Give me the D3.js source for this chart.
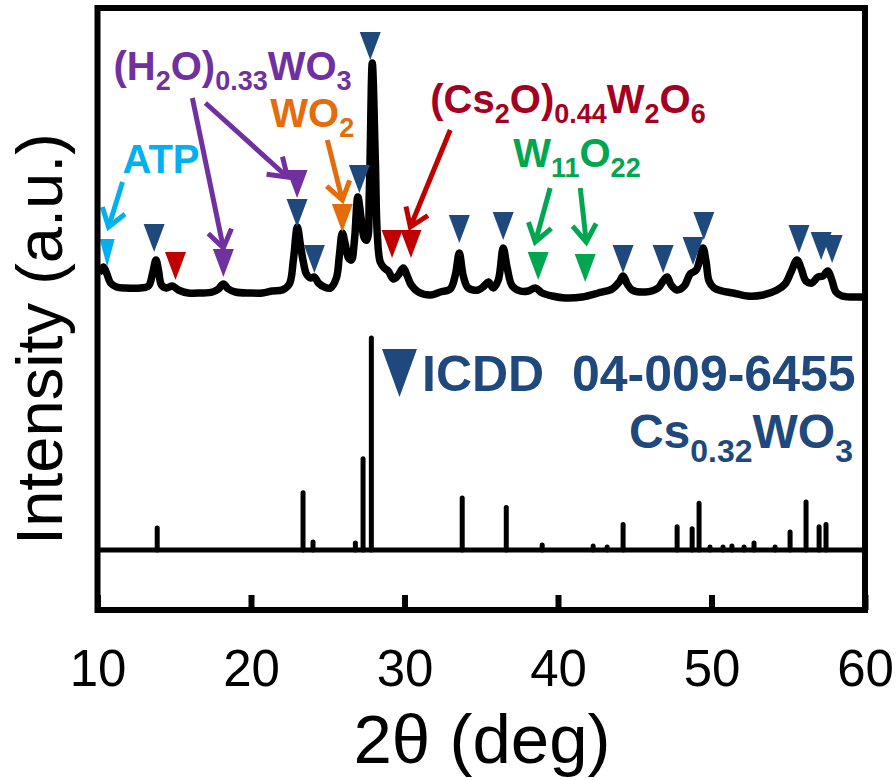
<!DOCTYPE html>
<html>
<head>
<meta charset="utf-8">
<script src="https://cdn.jsdelivr.net/npm/d3@7"></script>
<style>
  body { margin: 0; background: #fff; }
  svg text { font-family: Arial, "Liberation Sans", sans-serif; }
</style>
</head>
<body>
<svg width="896" height="780"></svg>
<script>
// measured XRD pattern (2theta in deg, intensity in a.u.)
const pattern2theta = [10.10, 10.26, 10.39, 10.59, 10.85, 11.24, 11.82, 12.80, 13.32, 13.58, 13.81, 13.97, 14.17, 14.49, 14.88, 15.27,
  15.92, 16.71, 17.49, 17.88, 18.20, 18.53, 18.98, 19.96, 20.74, 21.39, 22.04, 22.50, 22.76, 23.02, 23.22, 23.41, 23.61, 23.87,
  24.13, 24.39, 24.78, 25.17, 25.56, 25.76, 25.95, 26.15, 26.35, 26.54, 26.74, 26.96, 27.19, 27.38, 27.55, 27.71, 27.90, 28.10,
  28.23, 28.42, 28.68, 28.94, 29.27, 29.60, 29.92, 30.18, 30.44, 30.90, 31.68, 32.33, 32.98, 33.31, 33.57, 33.83, 34.15, 34.80,
  35.19, 35.46, 35.78, 36.11, 36.43, 36.69, 37.02, 37.54, 38.06, 38.52, 38.97, 39.62, 40.47, 41.58, 42.62, 43.53, 43.99, 44.24,
  44.51, 44.83, 45.68, 46.52, 46.85, 47.11, 47.37, 47.76, 48.22, 48.61, 49.00, 49.26, 49.45, 49.65, 49.84, 50.17, 50.69, 51.41,
  52.32, 53.36, 54.27, 54.79, 55.18, 55.57, 55.83, 56.15, 56.54, 56.93, 57.26, 57.58, 57.84, 58.11, 58.50, 59.80, 60.00];
const patternIntensity = [150, 160, 172, 148, 108, 92, 88, 88, 96, 144, 200, 160, 100, 88, 96, 80,
  68, 68, 72, 84, 104, 84, 72, 68, 68, 76, 80, 104, 200, 332, 260, 192, 144, 128,
  132, 108, 92, 88, 128, 220, 308, 260, 208, 200, 280, 452, 360, 288, 280, 480, 988, 600,
  300, 192, 168, 156, 124, 140, 168, 136, 100, 72, 60, 72, 84, 140, 228, 136, 88, 80,
  96, 112, 88, 120, 248, 168, 96, 76, 76, 88, 68, 56, 48, 52, 68, 84, 112, 136,
  104, 80, 72, 88, 116, 132, 100, 80, 96, 144, 160, 208, 248, 192, 116, 88, 76, 68,
  56, 60, 80, 104, 152, 200, 168, 116, 108, 132, 136, 156, 120, 72, 56, 52, 52];

// reference card ICDD 04-009-6455, Cs0.32WO3 (relative intensity)
const ref2theta = [13.89, 23.39, 24.04, 26.80, 27.30, 27.84, 33.76, 36.63, 38.97, 42.29, 43.20, 44.24, 47.76,
  48.74, 49.19, 49.90, 50.75, 51.33, 52.12, 52.77, 54.14, 55.12, 56.16, 57.01, 57.46];
const refIntensity = [10.4, 27, 3.8, 3.3, 43, 100, 24.5, 20, 2.4, 1.9, 1.4, 12, 11,
  10, 22, 1.4, 1.4, 1.9, 1.4, 3.3, 1.4, 8.5, 22.6, 11, 12];

// phase markers (triangle tip position)
const markerPhase = ["ATP", "Cs", "Cs2O", "H2O", "H2O", "Cs", "Cs", "WO2", "Cs", "Cs", "Cs2O", "Cs2O", "Cs", "Cs",
  "W11O22", "W11O22", "Cs", "Cs", "Cs", "Cs", "Cs", "Cs", "Cs"];
const marker2theta = [10.63, 13.69, 15.08, 18.20, 23.00, 23.00, 24.13, 25.95, 27.06, 27.77, 29.19, 30.42, 33.57, 36.43,
  38.71, 41.77, 44.24, 46.85, 48.80, 49.50, 55.70, 57.14, 57.86];
const markerIntensity = [172, 232, 120, 132, 448, 332, 148, 312, 468, 1000, 208, 208, 268, 280,
  120, 112, 148, 148, 180, 280, 228, 200, 188];

// phase labels
const labelPhase = ["ATP", "H2O", "WO2", "Cs2O", "W11O22"];
const labelParts = [
  [["ATP", 0]],
  [["(H", 0], ["2", 1], ["O)", 0], ["0.33", 1], ["WO", 0], ["3", 1]],
  [["WO", 0], ["2", 1]],
  [["(Cs", 0], ["2", 1], ["O)", 0], ["0.44", 1], ["W", 0], ["2", 1], ["O", 0], ["6", 1]],
  [["W", 0], ["11", 1], ["O", 0], ["22", 1]]
];
const label2theta = [11.63, 11.04, 21.26, 31.68, 37.08];
const labelIntensity = [548, 920, 732, 788, 572];

// arrows from label to marker
const arrowPhase = ["ATP", "H2O", "H2O", "WO2", "Cs2O", "W11O22", "W11O22"];
const arrowFrom = [[11.63, 512], [16.18, 848], [17.03, 828], [24.97, 680], [32.98, 720], [39.49, 488], [41.45, 488]];
const arrowTo = [[10.72, 332], [18.20, 248], [22.37, 532], [25.95, 440], [30.38, 332], [38.52, 272], [41.84, 272]];

const xTicks = [10, 20, 30, 40, 50, 60];

const phaseColor = { Cs: "#1F497D", ATP: "#00B0F0", H2O: "#7030A0", WO2: "#E46C0A", Cs2O: "#C00000", W11O22: "#00A650" };
const textColor = { ATP: "#00B0F0", H2O: "#7030A0", WO2: "#E46C0A", Cs2O: "#A50021", W11O22: "#00A650" };

const svg = d3.select("svg");
const frameTop = 8, frameBottom = 610, split = 550;

const x = d3.scaleLinear().domain([10, 60]).range([97.5, 865]);
const yTop = d3.scaleLinear().domain([0, 1000]).range([310, 60]);
const yRef = d3.scaleLinear().domain([0, 100]).range([split, 338]);

svg.append("clipPath").attr("id", "frame")
  .append("rect")
  .attr("x", x(10)).attr("y", frameTop)
  .attr("width", x(60) - x(10)).attr("height", frameBottom - frameTop);

const plot = svg.append("g").attr("clip-path", "url(#frame)");

// measured pattern
const line = d3.line()
  .x((d, i) => x(pattern2theta[i]))
  .y(d => yTop(d))
  .curve(d3.curveCatmullRom.alpha(0.5));

plot.append("path")
  .attr("d", line(patternIntensity))
  .attr("fill", "none")
  .attr("stroke", "#000")
  .attr("stroke-width", 7.5)
  .attr("stroke-linejoin", "round");

// triangle markers
const triH = 28;
plot.selectAll(".marker")
  .data(marker2theta)
  .enter().append("path")
  .attr("class", "marker")
  .attr("d", (d, i) => {
    const w = markerPhase[i] === "ATP" ? 7.5 : 10.5;
    const tx = x(d), ty = yTop(markerIntensity[i]);
    return `M${tx - w},${ty - triH}L${tx + w},${ty - triH}L${tx},${ty}Z`;
  })
  .attr("fill", (d, i) => phaseColor[markerPhase[i]]);

// arrows
const headLen = 21, headAng = 0.6;
arrowFrom.forEach((f, i) => {
  const x0 = x(f[0]), y0 = yTop(f[1]);
  const x1 = x(arrowTo[i][0]), y1 = yTop(arrowTo[i][1]);
  const a = Math.atan2(y1 - y0, x1 - x0);
  const c = phaseColor[arrowPhase[i]];
  svg.append("line")
    .attr("x1", x0).attr("y1", y0).attr("x2", x1 - 3 * Math.cos(a)).attr("y2", y1 - 3 * Math.sin(a))
    .attr("stroke", c).attr("stroke-width", 5);
  const p = [
    [x1 - headLen * Math.cos(a - headAng), y1 - headLen * Math.sin(a - headAng)],
    [x1, y1],
    [x1 - headLen * Math.cos(a + headAng), y1 - headLen * Math.sin(a + headAng)]
  ];
  svg.append("path")
    .attr("d", d3.line()(p))
    .attr("fill", "none").attr("stroke", c).attr("stroke-width", 5)
    .attr("stroke-linejoin", "miter");
});

// text with subscripts
function richText(sel, parts, size, subSize, shift) {
  let cur = 0;
  parts.forEach(([t, sub]) => {
    const target = sub ? shift : 0;
    sel.append("tspan")
      .attr("font-size", sub ? subSize : size)
      .attr("dy", target - cur)
      .text(t);
    cur = target;
  });
}

labelParts.forEach((parts, i) => {
  const t = svg.append("text")
    .attr("x", x(label2theta[i]))
    .attr("y", yTop(labelIntensity[i]))
    .attr("font-weight", "bold")
    .attr("fill", textColor[labelPhase[i]]);
  richText(t, parts, 40, 27, 10);
});

// reference sticks
svg.selectAll(".stick")
  .data(ref2theta)
  .enter().append("line")
  .attr("class", "stick")
  .attr("x1", d => x(d)).attr("x2", d => x(d))
  .attr("y1", split)
  .attr("y2", (d, i) => yRef(refIntensity[i]))
  .attr("stroke", "#000")
  .attr("stroke-width", 5)
  .attr("stroke-linecap", "round");

// reference legend
const legend = svg.append("g").attr("fill", phaseColor.Cs).attr("font-weight", "bold");
legend.append("path").attr("d", "M382,349L417,349L399.5,397Z");
legend.append("text")
  .attr("x", 422).attr("y", 391)
  .attr("font-size", 50)
  .style("white-space", "pre")
  .text("ICDD  04-009-6455");
const cs = legend.append("text")
  .attr("x", 853).attr("y", 448)
  .attr("text-anchor", "end");
richText(cs, [["Cs", 0], ["0.32", 1], ["WO", 0], ["3", 1]], 48, 32, 14);

// frame and divider
svg.append("line")
  .attr("x1", x(10)).attr("x2", x(60))
  .attr("y1", split).attr("y2", split)
  .attr("stroke", "#000").attr("stroke-width", 5);

svg.append("rect")
  .attr("x", x(10)).attr("y", frameTop)
  .attr("width", x(60) - x(10)).attr("height", frameBottom - frameTop)
  .attr("fill", "none").attr("stroke", "#000").attr("stroke-width", 6);

// bottom axis with inward ticks
const xAxis = d3.axisBottom(x).tickValues(xTicks).tickSizeInner(-15).tickSizeOuter(0).tickFormat(d3.format("d"));
const ax = svg.append("g").attr("transform", `translate(0,${frameBottom})`).call(xAxis);
ax.select(".domain").remove();
ax.selectAll(".tick line").attr("stroke", "#000").attr("stroke-width", 6);
ax.selectAll(".tick text")
  .attr("y", 76).attr("dy", 0)
  .attr("font-size", 51)
  .attr("font-family", "Arial, 'Liberation Sans', sans-serif")
  .attr("fill", "#000");

// axis titles
svg.append("text")
  .attr("x", 482).attr("y", 763)
  .attr("text-anchor", "middle")
  .attr("font-size", 69)
  .text("2θ (deg)");

svg.append("text")
  .attr("transform", "translate(62,339) rotate(-90)")
  .attr("text-anchor", "middle")
  .attr("font-size", 65)
  .text("Intensity (a.u.)");
</script>
</body>
</html>
